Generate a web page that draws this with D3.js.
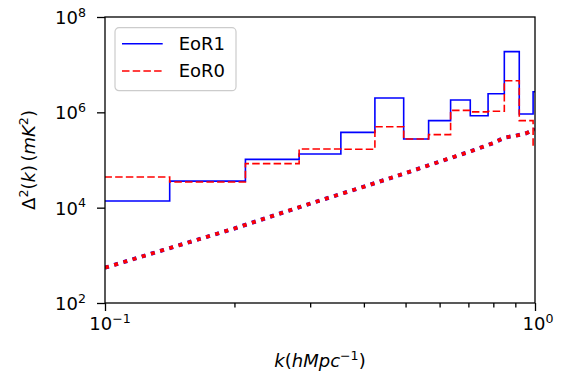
<!DOCTYPE html>
<html>
<head>
<meta charset="utf-8">
<script src="https://cdnjs.cloudflare.com/ajax/libs/d3/7.8.5/d3.min.js"></script>
<style>
  body { margin: 0; background: #fff; }
  svg { font-family: "DejaVu Sans", sans-serif; }
  .axis path { display: none; }
  .axis line { stroke: #000; stroke-width: 1.3; }
</style>
</head>
<body>
<div id="chart"></div>
<script>
(function () {

  // bin edges in k (h Mpc^-1), last bin runs off the plot
  var kEdges = [0.0707, 0.1414, 0.2121, 0.2828, 0.3536, 0.4243, 0.4950, 0.5657,
    0.6364, 0.7071, 0.7778, 0.8485, 0.9192, 0.9899, 1.0607]

  // power per bin (mK^2)
  var eor1 = [1.38e4, 3.6e4, 1.03e5, 1.34e5, 3.8e5, 2.0e6, 2.76e5, 6.7e5,
    1.81e6, 8.5e5, 2.46e6, 1.88e7, 9.2e5, 2.7e6]
  var eor0 = [4.4e4, 3.45e4, 8.4e4, 1.7e5, 1.68e5, 5.0e5, 2.76e5, 3.4e5,
    1.1e6, 1.02e6, 1.05e6, 4.6e6, 6.7e5, 1.9e5]

  // noise curve (dotted)
  var noiseK = [0.1, 0.2, 0.3, 0.4, 0.5, 0.6, 0.7, 0.8, 0.85, 0.9, 0.95, 1.0]
  var noise = [550, 3660, 12160, 27540, 53090, 92470, 146600, 227000, 296500,
    321400, 359700, 436500]

  var yTicks = [1e2, 1e4, 1e6, 1e8]
  var yTickExp = ["2", "4", "6", "8"]
  var xTicks = [0.1, 1]
  var xTickExp = ["\u22121", "0"]
  var xMinor = [0.2, 0.3, 0.4, 0.5, 0.6, 0.7, 0.8, 0.9]

  var legendNames = ["EoR1", "EoR0"]

  var margin = { top: 17, right: 33, bottom: 71, left: 105 }
  var width = 568 - margin.left - margin.right,
    height = 374 - margin.top - margin.bottom

  var svg = d3.select("#chart").append("svg")
    .attr("width", width + margin.left + margin.right)
    .attr("height", height + margin.top + margin.bottom)
    .append("g")
    .attr("transform", "translate(" + margin.left + "," + margin.top + ")")

  var xPositionScale = d3.scaleLog().domain([0.1, 1]).range([0, width])
  var yPositionScale = d3.scaleLog().domain([1e2, 1e8]).range([height, 0])

  svg.append("clipPath").attr("id", "clip")
    .append("rect").attr("width", width).attr("height", height)

  var plot = svg.append("g").attr("clip-path", "url(#clip)")

  // step lines: one point per left edge, plus the closing right edge
  function stepPoints(values) {
    var pts = values.map(function (v, i) { return [kEdges[i], v] })
    pts.push([kEdges[values.length], values[values.length - 1]])
    return pts
  }

  var stepLine = d3.line()
    .curve(d3.curveStepAfter)
    .x(function (d) { return xPositionScale(d[0]) })
    .y(function (d) { return yPositionScale(d[1]) })

  var noiseLine = d3.line()
    .x(function (d) { return xPositionScale(d[0]) })
    .y(function (d) { return yPositionScale(d[1]) })

  var noisePts = noiseK.map(function (k, i) { return [k, noise[i]] })

  plot.append("path")
    .datum(stepPoints(eor1))
    .attr("d", stepLine)
    .attr("fill", "none")
    .attr("stroke", "#0000ff")
    .attr("stroke-width", 1.6)

  plot.append("path")
    .datum(stepPoints(eor0))
    .attr("d", stepLine)
    .attr("fill", "none")
    .attr("stroke", "#ff0000")
    .attr("stroke-width", 1.6)
    .attr("stroke-dasharray", "7.5,3.2")

  // blue dotted sits under the red one
  plot.append("path")
    .datum(noisePts)
    .attr("d", noiseLine)
    .attr("fill", "none")
    .attr("stroke", "#0000ff")
    .attr("stroke-width", 4)
    .attr("stroke-dasharray", "4,5.6")

  plot.append("path")
    .datum(noisePts)
    .attr("d", noiseLine)
    .attr("fill", "none")
    .attr("stroke", "#ff0000")
    .attr("stroke-width", 3.6)
    .attr("stroke-dasharray", "4,5.6")

  // axes
  var xAxis = d3.axisBottom(xPositionScale).tickValues(xTicks).tickSize(8).tickFormat("")
  svg.append("g")
    .attr("class", "axis x-axis")
    .attr("transform", "translate(0," + height + ")")
    .call(xAxis)

  var xMinorAxis = d3.axisBottom(xPositionScale).tickValues(xMinor).tickSize(4.5).tickFormat("")
  svg.append("g")
    .attr("class", "axis x-axis")
    .attr("transform", "translate(0," + height + ")")
    .call(xMinorAxis)

  var yAxis = d3.axisLeft(yPositionScale).tickValues(yTicks).tickSize(8).tickFormat("")
  svg.append("g")
    .attr("class", "axis y-axis")
    .call(yAxis)

  // frame
  svg.append("rect")
    .attr("width", width)
    .attr("height", height)
    .attr("fill", "none")
    .attr("stroke", "#000")
    .attr("stroke-width", 1.3)

  // tick labels like 10^n
  function powerLabel(sel, exp) {
    sel.append("tspan").text("10")
    sel.append("tspan").text(exp)
      .attr("font-size", 12.6)
      .attr("dy", -7.5)
  }

  yTicks.forEach(function (t, i) {
    var lbl = svg.append("text")
      .attr("x", -19)
      .attr("y", yPositionScale(t) + 7)
      .attr("text-anchor", "end")
      .attr("font-size", 18)
    powerLabel(lbl, yTickExp[i])
  })

  xTicks.forEach(function (t, i) {
    var lbl = svg.append("text")
      .attr("x", xPositionScale(t) + (i == 0 ? 5 : 3))
      .attr("y", height + 27)
      .attr("text-anchor", "middle")
      .attr("font-size", 18)
    powerLabel(lbl, xTickExp[i])
  })

  // mathtext-ish labels
  function richText(sel, parts) {
    parts.forEach(function (p) {
      var ts = sel.append("tspan").text(p.t)
      if (p.it) ts.attr("font-style", "italic")
      if (p.sup) ts.attr("font-size", 12.6).attr("dy", -7.5)
      if (p.after) ts.attr("dy", 7.5)
    })
  }

  var xLabel = svg.append("text")
    .attr("x", width / 2)
    .attr("y", height + 64)
    .attr("text-anchor", "middle")
    .attr("font-size", 18)
  richText(xLabel, [
    { t: "k", it: true }, { t: "(" }, { t: "hMpc", it: true },
    { t: "\u22121", sup: true }, { t: ")", after: true }
  ])

  var yLabel = svg.append("text")
    .attr("transform", "translate(" + (-70) + "," + (height / 2) + ") rotate(-90)")
    .attr("text-anchor", "middle")
    .attr("font-size", 18)
  richText(yLabel, [
    { t: "\u0394" }, { t: "2", sup: true }, { t: "(", after: true }, { t: "k", it: true },
    { t: ")\u2009(" }, { t: "mK", it: true }, { t: "2", sup: true }, { t: ")", after: true }
  ])

  // legend
  var legend = svg.append("g").attr("transform", "translate(10,10.7)")
  legend.append("rect")
    .attr("width", 121)
    .attr("height", 63)
    .attr("rx", 4)
    .attr("fill", "#fff")
    .attr("fill-opacity", 0.8)
    .attr("stroke", "#cccccc")
    .attr("stroke-width", 1.2)

  var legendStyles = [
    { color: "#0000ff", dash: null },
    { color: "#ff0000", dash: "7.5,3.2" }
  ]

  legendNames.forEach(function (name, i) {
    var y = 16 + i * 27.3
    legend.append("line")
      .attr("x1", 7).attr("x2", 47.7)
      .attr("y1", y).attr("y2", y)
      .attr("stroke", legendStyles[i].color)
      .attr("stroke-width", 1.6)
      .attr("stroke-dasharray", legendStyles[i].dash)
    legend.append("text")
      .attr("x", 63.7)
      .attr("y", y + 6.5)
      .attr("font-size", 18)
      .text(name)
  })

})()
</script>
</body>
</html>
